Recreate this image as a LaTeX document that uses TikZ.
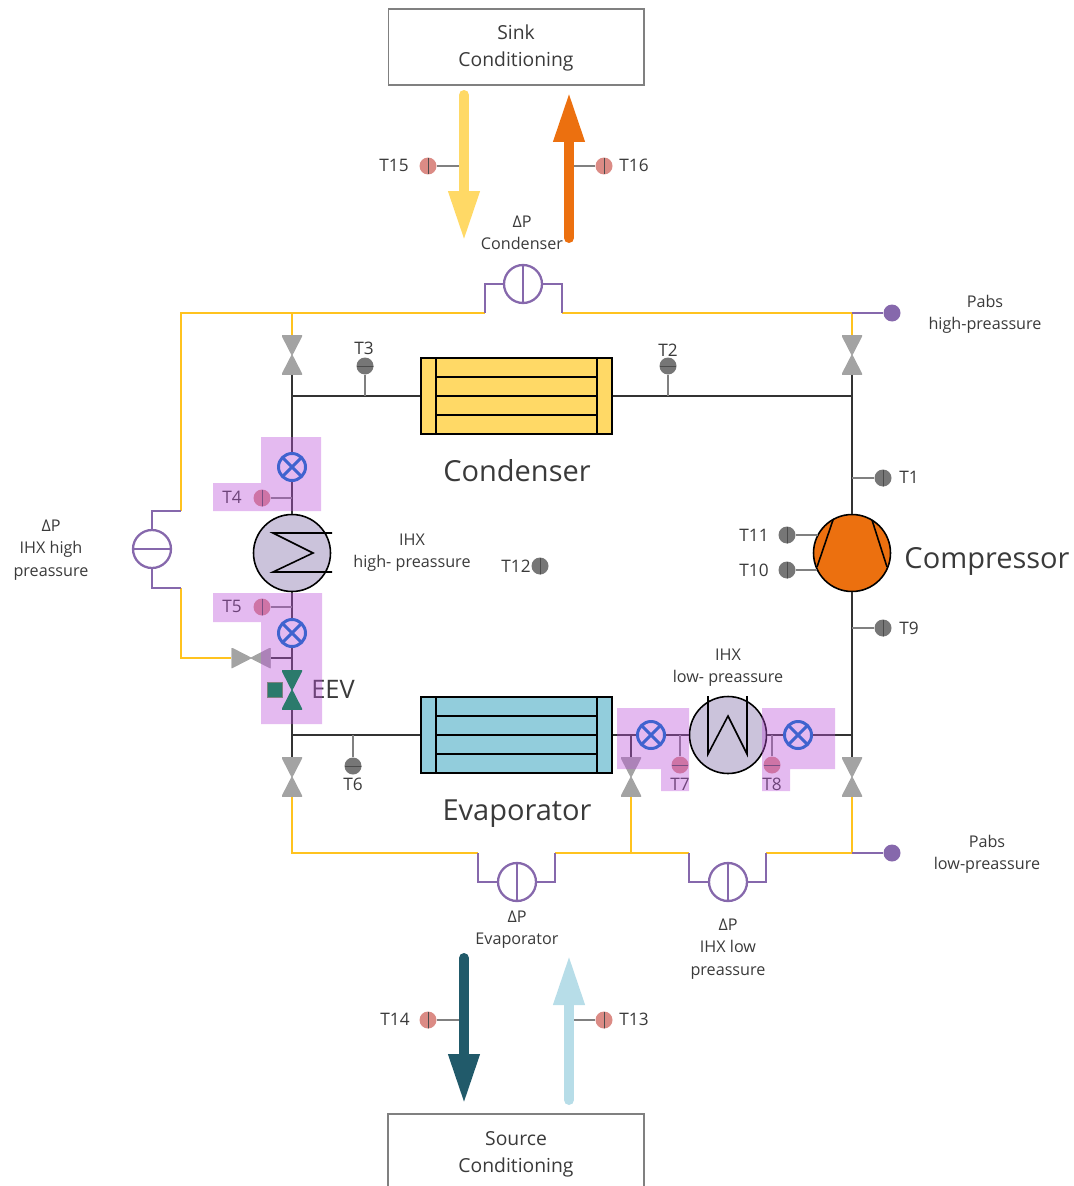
\documentclass[tikz,border=0pt]{standalone}
\usepackage{fontspec}
\setmainfont{Open Sans}
\usetikzlibrary{arrows.meta}
\pgfdeclarelayer{toplayer}
\pgfsetlayers{main,toplayer}
\definecolor{pipeblack}{HTML}{333333}
\definecolor{pipeyellow}{HTML}{FFC31F}
\definecolor{dpviolet}{HTML}{8668AC}
\definecolor{ihxfill}{HTML}{CBC3DB}
\definecolor{valvegray}{HTML}{A3A3A3}
\definecolor{sensgray}{HTML}{767676}
\definecolor{senspink}{HTML}{DB8B85}
\definecolor{meterblue}{HTML}{3F63CF}
\definecolor{eevgreen}{HTML}{2B7A6C}
\definecolor{regionviolet}{HTML}{BB52D9}
\definecolor{labelgray}{HTML}{3A3A3A}
\definecolor{condfill}{HTML}{FFD966}
\definecolor{evapfill}{HTML}{92CDDC}
\definecolor{compfill}{HTML}{EC700F}
\definecolor{sourcedark}{HTML}{215A6A}
\definecolor{sourcelight}{HTML}{B7DDE8}
\begin{document}
\begin{tikzpicture}[x=0.02cm,y=-0.02cm]
\tikzset{
    etiqueta/.style={text=labelgray, align=center, inner sep=0pt, font=\fontsize{9.2}{12.7}\selectfont},
    sonda/.style={text=labelgray, inner sep=0pt, font=\fontsize{9.8}{12}\selectfont},
    titulo/.style={text=labelgray, inner sep=0pt, font=\fontsize{16.5}{20}\selectfont},
    caja/.style={text=labelgray, align=center, inner sep=0pt, font=\fontsize{11}{15.3}\selectfont},
    pipe/.style={draw=pipeblack, line width=1.4pt},
    hose/.style={draw=pipeyellow, line width=1.2pt},
    dpline/.style={draw=dpviolet, line width=1.3pt},
    tap/.style={draw=gray, line width=0.6pt},
    flow/.style={line width=0.2cm, line cap=round, -{Triangle[length=1cm,width=0.58cm]}},
    hx/.style={circle, draw=black, line width=0.9pt, minimum size=1.54cm, inner sep=0pt},
    coil/.style={draw=black, line width=0.9pt},
    sensv/.style={circle, fill=#1, minimum size=0.34cm, inner sep=0pt, path picture={\draw[line width=0.4pt,black!70] (path picture bounding box.north) -- (path picture bounding box.south);}},
    sensh/.style={circle, fill=#1, minimum size=0.34cm, inner sep=0pt, path picture={\draw[line width=0.4pt,black!70] (path picture bounding box.west) -- (path picture bounding box.east);}},
    dpv/.style={circle, dpline, fill=white, minimum size=0.76cm, inner sep=0pt, path picture={\draw[dpline] (path picture bounding box.north) -- (path picture bounding box.south);}},
    dph/.style={circle, dpline, fill=white, minimum size=0.76cm, inner sep=0pt, path picture={\draw[dpline] (path picture bounding box.west) -- (path picture bounding box.east);}},
    meter/.style={circle, draw=meterblue, line width=1.7pt, minimum size=0.54cm, inner sep=0pt, path picture={\draw[meterblue, line width=1.7pt] (path picture bounding box.north west) -- (path picture bounding box.south east) (path picture bounding box.north east) -- (path picture bounding box.south west);}},
    valve/.style={rectangle, minimum width=0.4cm, minimum height=0.78cm, inner sep=0pt, path picture={\filldraw[fill=#1, draw=#1, line width=0.6pt, line join=bevel] (path picture bounding box.north west) -- (path picture bounding box.north east) -- (path picture bounding box.south west) -- (path picture bounding box.south east) -- cycle;}},
    valveh/.style={rectangle, minimum width=0.78cm, minimum height=0.4cm, inner sep=0pt, path picture={\filldraw[fill=#1, draw=#1, line width=0.6pt, line join=bevel] (path picture bounding box.north west) -- (path picture bounding box.south west) -- (path picture bounding box.north east) -- (path picture bounding box.south east) -- cycle;}},
    region/.style={fill=regionviolet, fill opacity=0.4},
    intercambiador/.style={draw=black, line width=1pt}
}
\useasboundingbox (0,0) rectangle (1074,1186);

\begin{pgfonlayer}{toplayer}
\node[meter] (m1) at (292,467) {};
\node[meter] (m2) at (292,633) {};
\node[meter] (m3) at (651,735) {};
\node[meter] (m4) at (798,735) {};
\node[valve=eevgreen] (eev) at (292,690) {};
\node[rectangle, fill=eevgreen, draw=black!50, line width=0.3pt, minimum size=0.3cm, inner sep=0pt] (eevact) at (275,690) {};
\end{pgfonlayer}

\node[valve=valvegray] (v1) at (292,355) {};
\node[valve=valvegray] (v2) at (852,355) {};
\node[valve=valvegray] (v3) at (292,777) {};
\node[valve=valvegray] (v4) at (631,777) {};
\node[valve=valvegray] (v5) at (852,777) {};
\node[valveh=valvegray] (v6) at (251,658) {};

\node[hx, fill=ihxfill] (ihxhigh) at (292,553) {};
\node[hx, fill=ihxfill] (ihxlow) at (728,735) {};
\node[hx, fill=compfill] (comp) at (852,553) {};
\draw[coil] (332,533) -- (273,533) -- (313,553) -- (273,572) -- (332,572);
\draw[coil] (708,696) -- (708,754) -- (728,716) -- (747,754) -- (747,696);
\draw[coil] (833,520) -- (817,567);
\draw[coil] (872,520) -- (887,567);

\node[intercambiador, fill=condfill, minimum width=3.82cm, minimum height=1.52cm, inner sep=0pt] (cond) at (516.5,396) {};
\node[intercambiador, fill=evapfill, minimum width=3.82cm, minimum height=1.52cm, inner sep=0pt] (evap) at (516.5,735) {};
\foreach \y in {377,396,415} \draw[coil] (436,\y) -- (597,\y);
\foreach \y in {716,735,754} \draw[coil] (436,\y) -- (597,\y);
\foreach \x in {436,597} {
  \draw[intercambiador] (\x,358) -- (\x,434);
  \draw[intercambiador] (\x,697) -- (\x,773);
}

\coordinate (jtl) at (292,396);
\coordinate (jtr) at (852,396);
\coordinate (jbl) at (292,735);
\coordinate (jbr) at (852,735);
\coordinate (jb3) at (631,735);
\coordinate (jv6) at (292,658);
\draw[pipe] (v1.south) -- (jtl) -- (m1) (m1) -- (ihxhigh) (ihxhigh) -- (m2) (m2) -- (eev.north);
\draw[pipe] (eev.south) -- (jbl) -- (v3.north);
\draw[pipe] (jtl) -- (cond) (cond) -- (jtr);
\draw[pipe] (v2.south) -- (comp) (comp) -- (v5.north);
\draw[pipe] (jbl) -- (evap) (evap) -- (m3) (m3) -- (ihxlow) (ihxlow) -- (m4) (m4) -- (jbr);
\draw[pipe] (jb3) -- (v4.north);
\draw[pipe] (jv6) -- (v6.east);

\node[sensh=sensgray] (t3) at (365,366) {};
\node[sensh=sensgray] (t2) at (668,366) {};
\node[sensh=sensgray] (t6) at (353,766) {};
\node[sensv=sensgray] (t1) at (883,478) {};
\node[sensv=sensgray] (t9) at (883,628) {};
\node[sensv=sensgray] (t11) at (787,535) {};
\node[sensv=sensgray] (t10) at (787,570) {};
\node[sensv=sensgray] (t12) at (540,566) {};
\node[sensv=senspink] (t4) at (262,498) {};
\node[sensv=senspink] (t5) at (262,607) {};
\node[sensh=senspink] (t7) at (680,765) {};
\node[sensh=senspink] (t8) at (772,765) {};
\node[sensv=senspink] (t15) at (428,166) {};
\node[sensv=senspink] (t16) at (604,166) {};
\node[sensv=senspink] (t14) at (428,1020) {};
\node[sensv=senspink] (t13) at (604,1020) {};
\draw[tap] (t3) -- (t3 |- jtl);
\draw[tap] (t2) -- (t2 |- jtr);
\draw[tap] (t6) -- (t6 |- jbl);
\draw[tap] (t1) -- (t1 -| jtr);
\draw[tap] (t9) -- (t9 -| jtr);
\draw[tap] (t11) -- (818,535);
\draw[tap] (t10) -- (817,570);
\draw[tap] (t4) -- (t4 -| jtl);
\draw[tap] (t5) -- (t5 -| jtl);
\draw[tap] (t7) -- (t7 |- jbl);
\draw[tap] (t8) -- (t8 |- jbl);
\draw[tap] (eevact) -- (eev);

\coordinate (a1) at (464,95);
\coordinate (a2) at (464,241);
\coordinate (b1) at (569,238);
\coordinate (b2) at (569,92);
\coordinate (c1) at (464,958);
\coordinate (c2) at (464,1104);
\coordinate (d1) at (569,1100);
\coordinate (d2) at (569,955);
\draw[tap] (t15) -- (t15 -| a1);
\draw[tap] (t16) -- (t16 -| b1);
\draw[tap] (t14) -- (t14 -| c1);
\draw[tap] (t13) -- (t13 -| d1);
\draw[flow, condfill] (a1) -- (a2);
\draw[flow, compfill] (b1) -- (b2);
\draw[flow, sourcedark] (c1) -- (c2);
\draw[flow, sourcelight] (d1) -- (d2);

\node[dpv] (dpcond) at (523,284) {};
\node[dph] (dpihxh) at (152,549) {};
\node[dpv] (dpevap) at (517,882) {};
\node[dpv] (dpihxl) at (728,882) {};
\node[circle, fill=dpviolet, minimum size=0.34cm, inner sep=0pt] (phigh) at (892,313) {};
\node[circle, fill=dpviolet, minimum size=0.34cm, inner sep=0pt] (plow) at (892,853) {};
\coordinate (h1) at (485,313);
\coordinate (h2) at (562,313);
\coordinate (h3) at (181,511);
\coordinate (h4) at (181,588);
\coordinate (h5) at (478,853);
\coordinate (h6) at (555,853);
\coordinate (h7) at (689,853);
\coordinate (h8) at (766,853);
\coordinate (h9) at (631,853);
\coordinate (h10) at (852,853);
\coordinate (h11) at (852,313);
\coordinate (h12) at (292,313);
\draw[hose] (h3) -- (181,313) -- (h1);
\draw[hose] (h2) -- (h11) -- (v2.north);
\draw[hose] (h12) -- (v1.north);
\draw[hose] (h4) -- (181,658) -- (v6.west);
\draw[hose] (v3.south) -- (292,853) -- (h5);
\draw[hose] (h6) -- (h7);
\draw[hose] (v4.south) -- (h9);
\draw[hose] (h8) -- (h10) -- (v5.south);
\draw[dpline] (h1) |- (dpcond);
\draw[dpline] (dpcond) -| (h2);
\draw[dpline] (h3) -| (dpihxh);
\draw[dpline] (dpihxh) |- (h4);
\draw[dpline] (h5) |- (dpevap);
\draw[dpline] (dpevap) -| (h6);
\draw[dpline] (h7) |- (dpihxl);
\draw[dpline] (dpihxl) -| (h8);
\draw[dpline] (h11) -- (phigh);
\draw[dpline] (h10) -- (plow);

\node[rectangle, draw=gray, line width=0.6pt, minimum width=5.12cm, minimum height=1.52cm] (sink) at (516,47) {};
\node[caja] (lsink) at (516,48) {Sink\\Conditioning};
\node[caja] (source) at (516,1154) {Source\\Conditioning};
\coordinate (s1) at (388,1186);
\coordinate (s2) at (644,1186);
\draw[draw=gray, line width=0.6pt] (s1) |- (516,1114) -| (s2);

\node[sonda] (lt15) at (394,165) {T15};
\node[sonda] (lt16) at (634,165) {T16};
\node[etiqueta] (ldpc) at (522,233) {ΔP\\Condenser};
\node[etiqueta] (lphigh) at (985,314) {Pabs\\high-preassure};
\node[sonda] (lt3) at (364,348) {T3};
\node[sonda] (lt2) at (668,350) {T2};
\node[titulo] (lcond) at (517,471) {Condenser};
\node[sonda] (lt1) at (909,477) {T1};
\node[sonda] (lt4) at (232,497) {T4};
\node[sonda] (lt5) at (232,606) {T5};
\node[etiqueta] (ldpih) at (51,550) {ΔP\\IHX high\\preassure};
\node[etiqueta] (lihxh) at (412,553) {IHX\\high- preassure};
\node[sonda] (lt12) at (516,566) {T12};
\node[sonda] (lt11) at (754,535) {T11};
\node[sonda] (lt10) at (754,570) {T10};
\node[titulo] (lcomp) at (987,561) {Compressor};
\node[sonda] (lt9) at (909,628) {T9};
\node[titulo, font=\fontsize{14.5}{16}\selectfont] (leev) at (333,689) {EEV};
\node[etiqueta] (lihxl) at (728,668) {IHX\\low- preassure};
\node[sonda] (lt6) at (353,784) {T6};
\node[sonda] (lt7) at (680,784) {T7};
\node[sonda] (lt8) at (772,784) {T8};
\node[titulo] (levap) at (517,814) {Evaporator};
\node[etiqueta] (lplow) at (987,854) {Pabs\\low-preassure};
\node[etiqueta] (ldpe) at (517,930) {ΔP\\Evaporator};
\node[etiqueta] (ldpil) at (728,949) {ΔP\\IHX low\\preassure};
\node[sonda] (lt14) at (395,1019) {T14};
\node[sonda] (lt13) at (634,1019) {T13};

\fill[region] (261,437) -- (321,437) -- (321,511) -- (213,511) -- (213,483) -- (261,483) -- cycle;
\fill[region] (213,593) -- (322,593) -- (322,724) -- (261,724) -- (261,622) -- (213,622) -- cycle;
\fill[region] (617,708) -- (689,708) -- (689,791) -- (661,791) -- (661,769) -- (617,769) -- cycle;
\fill[region] (762,708) -- (835,708) -- (835,769) -- (790,769) -- (790,791) -- (762,791) -- cycle;
\end{tikzpicture}
\end{document}
